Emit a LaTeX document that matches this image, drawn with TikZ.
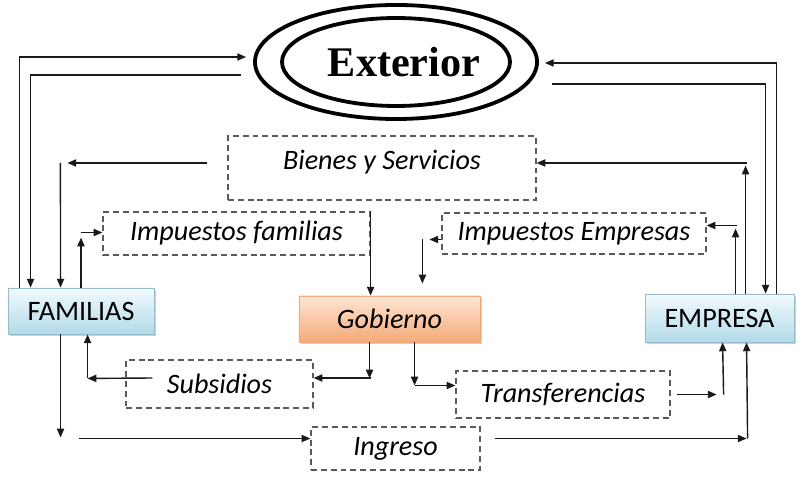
\documentclass[tikz,border=0pt]{standalone}
\usepackage{fontspec}
\setmainfont{Carlito}
\newfontfamily\serifbold{Liberation Serif}
\usepackage{xcolor}
\definecolor{famtop}{RGB}{242,250,253}
\definecolor{fambot}{RGB}{178,219,233}
\definecolor{famline}{RGB}{150,188,204}
\definecolor{govtop}{RGB}{253,230,212}
\definecolor{govbot}{RGB}{245,170,120}
\definecolor{govline}{RGB}{238,168,122}
\definecolor{dashgray}{RGB}{90,90,90}
\usepackage{tikz}
\usetikzlibrary{arrows.meta, positioning, calc, shapes.geometric, shadows}

\begin{document}
\begin{tikzpicture}[
        x=0.025cm, y=-0.025cm,
        flow/.style={-{Triangle[length=2.2mm,width=1.8mm]}, line width=1pt, black!90},
        flujo/.style={rectangle, draw=dashgray, line width=0.8pt, dash pattern=on 4.2pt off 2.8pt, inner sep=0pt, font=\fontsize{20}{24}\selectfont\itshape, text=black},
        sector/.style={rectangle, draw=#1line, top color=#1top, bottom color=#1bot, line width=0.6pt, inner sep=0pt, font=\fontsize{20}{24}\selectfont, text=black, drop shadow={shadow xshift=1.2pt, shadow yshift=-1.6pt, fill=gray!45, opacity=0.8}}
    ]
        \useasboundingbox (0,0) rectangle (800,477);

        \node[ellipse, draw, line width=2.7pt, minimum width=7.05cm, minimum height=2.85cm, inner sep=0pt] (exterior) at (396,62) {};
        \draw[line width=2.7pt] (exterior.center) ellipse [x radius=114, y radius=44];
        \node[font=\serifbold\bfseries\fontsize{30}{36}\selectfont] at ($(exterior.center)+(8,0)$) {Exterior};

        \node[flujo, minimum width=7.7cm, text height=0.85cm, text depth=0.75cm] (bienes) at (382,168) {Bienes y Servicios};
        \node[flujo, minimum width=6.675cm, minimum height=1.075cm] (impfam) at (236.5,233.5) {Impuestos familias};
        \node[flujo, minimum width=6.6cm, minimum height=1.025cm] (impemp) at (574,233.5) {Impuestos Empresas};
        \node[flujo, minimum width=4.675cm, minimum height=1.2cm] (subsidios) at (219.5,384) {Subsidios};
        \node[flujo, minimum width=5.35cm, minimum height=1.175cm] (transf) at (563,394.5) {Transferencias};
        \node[flujo, minimum width=4.225cm, minimum height=1.075cm] (ingreso) at (395.5,448.5) {Ingreso};

        \node[sector=fam, minimum width=3.65cm, minimum height=1.15cm] (familias) at (81,311) {FAMILIAS};
        \node[sector=gov, minimum width=4.525cm, minimum height=1.15cm, font=\fontsize{20}{24}\selectfont\itshape] (gobierno) at (389.5,319) {Gobierno};
        \node[sector=fam, minimum width=3.725cm, minimum height=1.2cm] (empresa) at (719.5,318) {EMPRESA};

        \draw[flow] ($(familias.north west)+(12,0)$) |- ($(exterior.west)+(-7,-5)$);
        \draw[flow] ($(exterior.west)+(-12,13)$) -| ($(familias.north west)+(23,0)$);
        \draw[flow] ($(bienes.west)+(-20,-5)$) -- ++(-140,0);
        \draw[flow] ($(bienes.west)+(-167,-5)$) -- ($(familias.north west)+(53,0)$);
        \draw[flow] (familias.north) -- ++(0,-50);
        \draw[flow] ($(impfam.west)+(-21,-1)$) -- ($(impfam.west)+(0,-1)$);
        \draw[flow] (impfam.north east) -- (impfam.north east |- gobierno.north);

        \draw[flow] ($(impemp.west)+(0,6)$) -- ++(-12,0);
        \draw[flow] ($(impemp.west)+(-19,6)$) -- ++(0,44);
        \draw[flow] ($(empresa.north west)+(91,0)$) -- ++(0,-65);
        \draw[flow] ($(impemp.east)+(30,-8)$) -- ($(impemp.east)+(0,-8)$);
        \draw[flow] ($(empresa.north west)+(101,0)$) -- ++(0,-128);
        \draw[flow] ($(bienes.east)+(210,-5)$) -- ($(bienes.east)+(0,-5)$);
        \draw[flow] ($(exterior.east)+(13,22)$) -| ($(empresa.north west)+(121,0)$);
        \draw[flow] ($(empresa.north west)+(132,0)$) |- ($(exterior.east)+(6,1)$);

        \draw[flow] ($(gobierno.south west)+(71,0)$) -- ++(0,36);
        \draw[flow] ($(subsidios.east)+(57,-6)$) -- ($(subsidios.east)+(0,-6)$);
        \draw[flow] ($(subsidios.west)+(27,-6)$) -- ($(familias.south west)+(80,44)$);
        \draw[flow] ($(familias.south west)+(80,44)$) -- ($(familias.south west)+(80,0)$);
        \draw[flow] ($(gobierno.south west)+(116,0)$) -- ++(0,43);
        \draw[flow] ($(transf.west)+(-40,-9)$) -- ($(transf.west)+(0,-9)$);
        \draw[flow] ($(transf.east)+(6,0)$) -- ++(40,0);
        \draw[flow] ($(transf.east)+(53,0)$) -- ($(empresa.south west)+(78,0)$);

        \draw[flow] ($(familias.south west)+(53,0)$) -- ++(0,103);
        \draw[flow] ($(ingreso.west)+(-231,-10)$) -- ($(ingreso.west)+(0,-10)$);
        \draw[flow] ($(ingreso.east)+(14,-10)$) -- ++(252,0);
        \draw[flow] ($(ingreso.east)+(267,-10)$) -- ($(empresa.south west)+(102,0)$);
    \end{tikzpicture}
\end{document}
